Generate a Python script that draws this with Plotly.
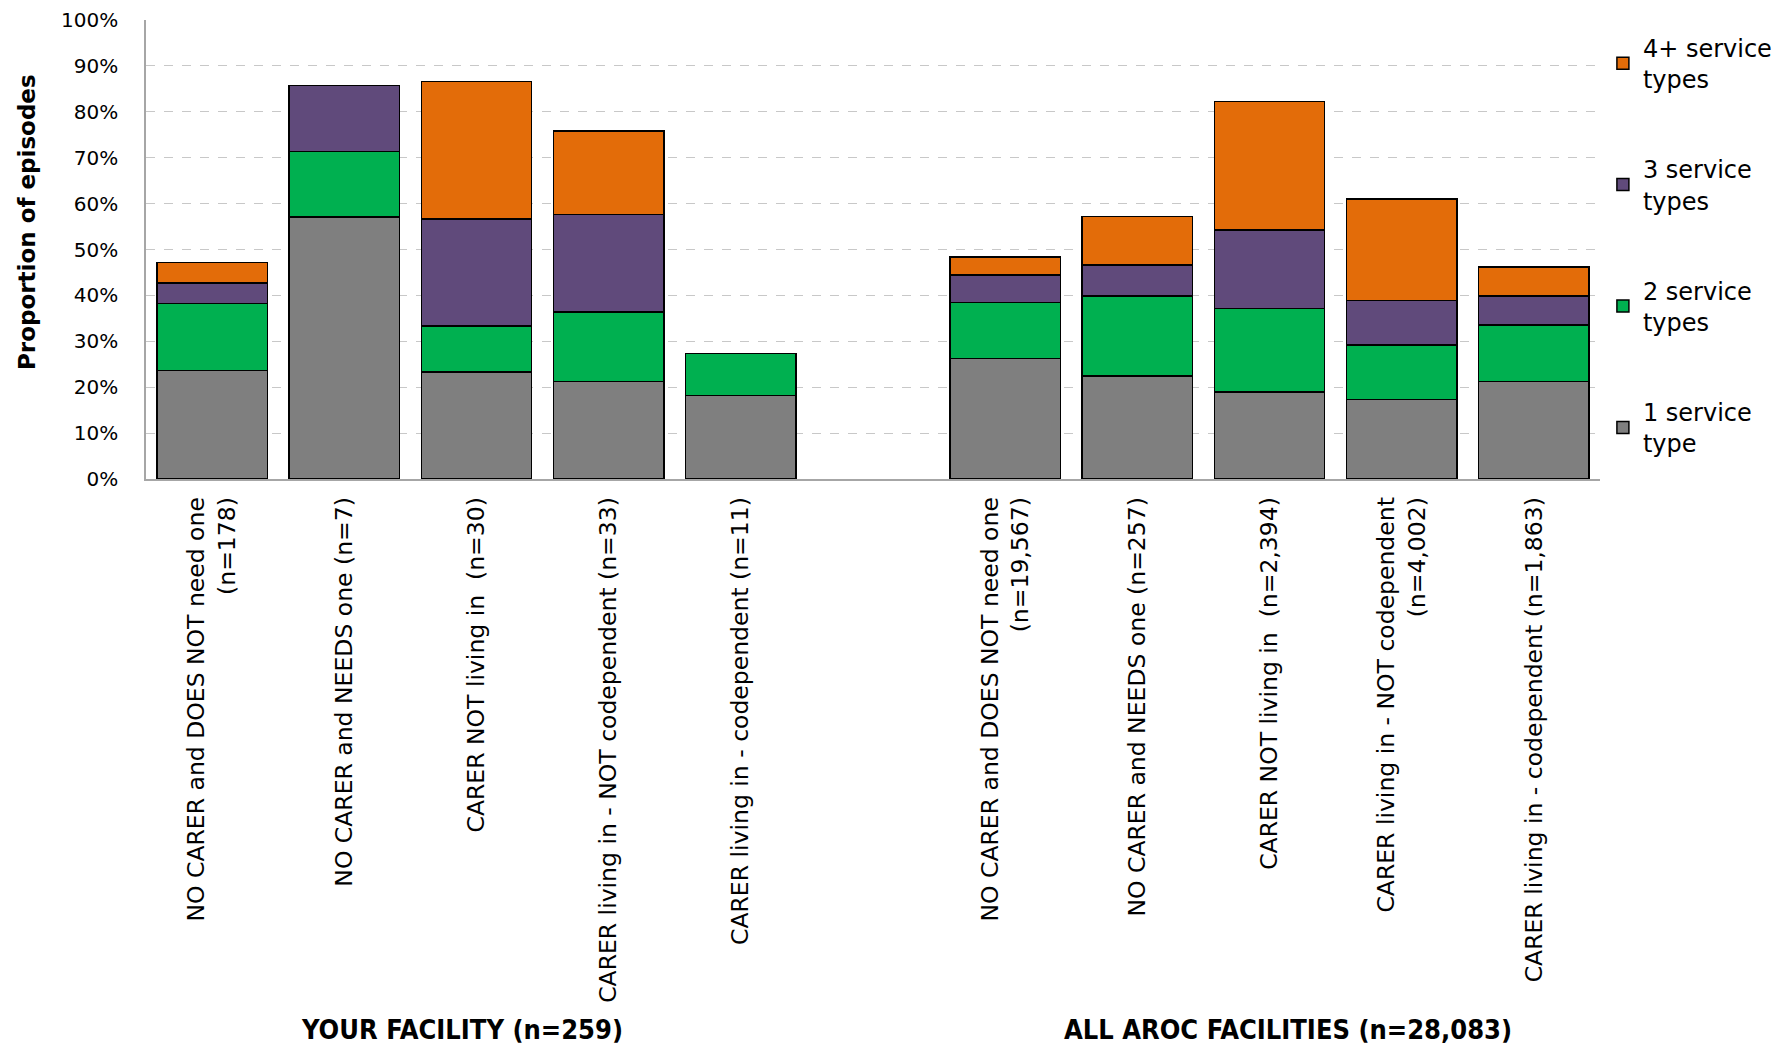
import plotly.graph_objects as go

# ---- data ----
categories = [
    "NO CARER and DOES NOT need one<br>(n=178)",
    "NO CARER and NEEDS one (n=7)",
    "CARER NOT living in  (n=30)",
    "CARER living in - NOT codependent (n=33)",
    "CARER living in - codependent (n=11)",
    "",
    "NO CARER and DOES NOT need one<br>(n=19,567)",
    "NO CARER and NEEDS one (n=257)",
    "CARER NOT living in  (n=2,394)",
    "CARER living in - NOT codependent<br>(n=4,002)",
    "CARER living in - codependent (n=1,863)",
]
one_service = [23.6, 57.1, 23.3, 21.2, 18.2, None, 26.3, 22.4, 19.0, 17.3, 21.2]
two_service = [14.6, 14.3, 10.0, 15.2, 9.1, None, 12.2, 17.5, 18.2, 11.9, 12.3]
three_service = [4.5, 14.3, 23.3, 21.2, 0.0, None, 5.9, 6.7, 17.1, 9.7, 6.4]
four_plus = [4.5, 0.0, 30.0, 18.2, 0.0, None, 4.0, 10.6, 27.9, 22.1, 6.3]
group_labels = ["YOUR FACILITY (n=259)", "ALL AROC FACILITIES (n=28,083)"]
group_label_pos = [1.89, 8.14]
y_ticks = [0, 10, 20, 30, 40, 50, 60, 70, 80, 90, 100]
y_title = "Proportion of episodes"

series = [
    ("1 service<br>type", one_service, "#7F7F7F"),
    ("2 service<br>types", two_service, "#00B050"),
    ("3 service<br>types", three_service, "#604A7B"),
    ("4+ service<br>types", four_plus, "#E36C09"),
]

FONT = "DejaVu Sans"
xpos = list(range(len(categories)))

fig = go.Figure()
n = len(series)
for i, (name, vals, col) in enumerate(series):
    fig.add_trace(go.Bar(
        x=xpos, y=vals, name=name,
        marker=dict(color=col, line=dict(color="black", width=1.5)),
        legendgroup=f"g{i}", legendrank=n - i,
    ))

for lab, cx in zip(group_labels, group_label_pos):
    fig.add_annotation(
        x=cx, xref="x", y=-1.2, yref="paper", text=f"<b>{lab}</b>",
        showarrow=False, font=dict(family="DejaVu Sans Condensed", size=27, color="black"),
        xanchor="center", yanchor="middle",
    )

fig.add_annotation(
    x=-0.0818, xref="paper", y=0.56, yref="paper", text=f"<b>{y_title}</b>",
    textangle=-90, showarrow=False, font=dict(family=FONT, size=23, color="black"),
    xanchor="center", yanchor="middle",
)

fig.update_layout(
    width=1779, height=1044,
    barmode="stack", bargap=0.165,
    plot_bgcolor="white", paper_bgcolor="white",
    margin=dict(l=138, r=187, t=12, b=573, autoexpand=False),
    font=dict(family=FONT, size=18, color="black"),
    legend=dict(
        x=1.002, y=0.988, xanchor="left", yanchor="top",
        traceorder="grouped", tracegroupgap=56,
        font=dict(family=FONT, size=24, color="black"),
        itemwidth=30,
    ),
    xaxis=dict(
        range=[-0.5, 10.5], tickmode="array", tickvals=xpos, ticktext=categories,
        tickangle=-90, showgrid=False, showline=True, linecolor="#A6A6A6", linewidth=1.5,
        ticks="", ticklabelstandoff=7, automargin=False,
        tickfont=dict(family=FONT, size=23.5, color="black"),
    ),
    yaxis=dict(
        range=[0, 100], tickmode="array", tickvals=y_ticks,
        ticktext=[f"{v}%" for v in y_ticks],
        showgrid=True, gridcolor="#C8C8C8", griddash="dash", gridwidth=1,
        showline=True, linecolor="#A6A6A6", linewidth=1.5, ticks="",
        ticklabelstandoff=22, zeroline=False, automargin=False,
        tickfont=dict(family=FONT, size=20, color="black"),
    ),
)

fig.write_html("out.html")
